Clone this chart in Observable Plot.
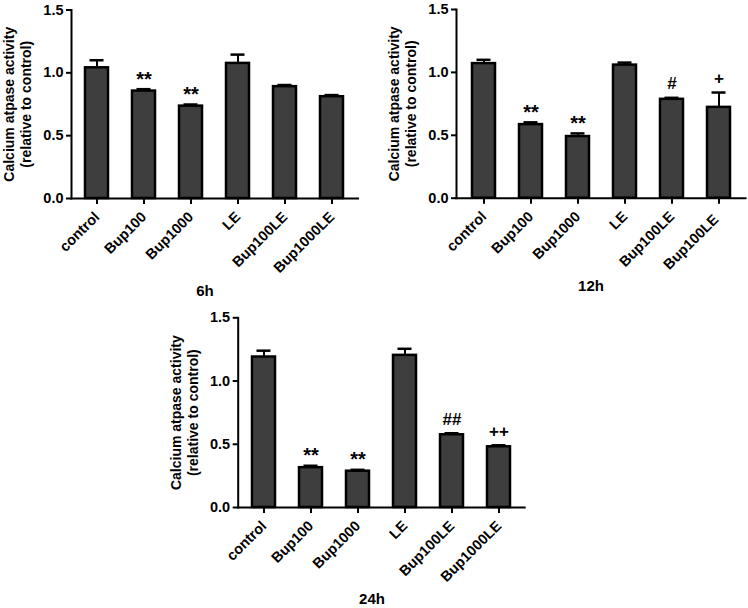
<!DOCTYPE html>
<html>
<head>
<meta charset="utf-8">
<script src="https://cdn.jsdelivr.net/npm/d3@7"></script>
<script src="https://cdn.jsdelivr.net/npm/@observablehq/plot@0.6"></script>
<style>
  body { margin: 0; background: #fff; }
  #wrap { position: relative; width: 748px; height: 608px; font-family: "Liberation Sans", Arial, sans-serif; }
  .panel { position: absolute; }
  .ttl { position: absolute; font-weight: bold; font-size: 15px; transform: translate(-50%, -50%); white-space: nowrap; }
</style>
</head>
<body>
<div id="wrap"></div>
<script>
// ---- data ----
const groups6 = ["control", "Bup100", "Bup1000", "LE", "Bup100LE", "Bup1000LE"];
const means6 = [1.04, 0.855, 0.735, 1.075, 0.89, 0.81];
const errs6 = [1.10, 0.87, 0.748, 1.145, 0.903, 0.823];
const marks6 = ["", "**", "**", "", "", ""];

const groups12 = ["control", "Bup100", "Bup1000", "LE", "Bup100LE", "Bup100LE "];
const means12 = [1.07, 0.585, 0.49, 1.058, 0.786, 0.722];
const errs12 = [1.10, 0.603, 0.515, 1.078, 0.798, 0.84];
const marks12 = ["", "**", "**", "", "#", "+"];

const groups24 = ["control", "Bup100", "Bup1000", "LE", "Bup100LE", "Bup1000LE"];
const means24 = [1.19, 0.315, 0.287, 1.203, 0.575, 0.48];
const errs24 = [1.24, 0.33, 0.298, 1.255, 0.587, 0.492];
const marks24 = ["", "**", "**", "", "##", "++"];

const yTicks = [0, 0.5, 1.0, 1.5];
const yTitle1 = "Calcium atpase activity";
const yTitle2 = "(relative to control)";
const titles = ["6h", "12h", "24h"];

const FONT = "Liberation Sans, Arial, sans-serif";

function panel(groups, means, errs, marks, geo) {
  const data = groups.map((g, i) => ({g, m: means[i], e: errs[i], s: marks[i]}));
  const stars = data.filter(d => d.s === "**");
  const others = data.filter(d => d.s && d.s !== "**");
  return Plot.plot({
    width: geo.width, height: geo.height,
    marginLeft: geo.ml, marginRight: geo.mr, marginTop: geo.mt, marginBottom: geo.mb,
    style: {fontFamily: FONT, fontWeight: "bold", fontSize: "14px", color: "black", background: "white", overflow: "visible"},
    x: {domain: groups, paddingInner: 0.516, paddingOuter: 0.274, label: null, axis: null},
    y: {domain: [0, 1.5], ticks: yTicks, label: null, axis: null},
    marks: [
      Plot.barY(data, {x: "g", y: "m", fill: "#3e3e3e", stroke: "black", strokeWidth: 2.5}),
      Plot.ruleX(data, {x: "g", y1: "m", y2: "e", stroke: "black", strokeWidth: 2}),
      Plot.tickY(data, {x: "g", y: "e", stroke: "black", strokeWidth: 2.5, insetLeft: 4.5, insetRight: 4.5}),
      Plot.text(stars, {x: "g", y: "e", text: "s", dy: -10, lineAnchor: "middle", fontSize: 20, fontWeight: "bold", fill: "black"}),
      Plot.text(others, {x: "g", y: "e", text: "s", dy: -14, lineAnchor: "middle", fontSize: 17, fontWeight: "bold", fill: "black"}),
      Plot.axisY({ticks: yTicks, tickFormat: d3.format(".1f"), tickSize: 5, tickPadding: 3, strokeWidth: 2, fontWeight: "bold", fontSize: 14.5, label: null}),
      Plot.axisX({tickRotate: -45, tickSize: 6, tickPadding: 10, strokeWidth: 2, fontWeight: "bold", fontSize: 14.5, label: null}),
      Plot.frame({anchor: "left", stroke: "black", strokeWidth: 2}),
      Plot.frame({anchor: "bottom", stroke: "black", strokeWidth: 2}),
      Plot.text([yTitle1], {frameAnchor: "left", dx: -62, rotate: -90, textAnchor: "middle", lineAnchor: "middle", text: d => d, fontSize: 14, fontWeight: "bold", fill: "black"}),
      Plot.text([yTitle2], {frameAnchor: "left", dx: -45, rotate: -90, textAnchor: "middle", lineAnchor: "middle", text: d => d, fontSize: 14, fontWeight: "bold", fill: "black"})
    ]
  });
}

const wrap = document.getElementById("wrap");
function place(el, left, top) {
  const d = document.createElement("div");
  d.className = "panel";
  d.style.left = left + "px"; d.style.top = top + "px";
  d.appendChild(el);
  wrap.appendChild(d);
}
function title(t, x, y) {
  const d = document.createElement("div");
  d.className = "ttl";
  d.textContent = t;
  d.style.left = x + "px"; d.style.top = y + "px";
  wrap.appendChild(d);
}

place(panel(groups6, means6, errs6, marks6, {width: 374, height: 300, ml: 71, mr: 16.5, mt: 9.5, mb: 102}), 0, 0);
place(panel(groups12, means12, errs12, marks12, {width: 374, height: 300, ml: 82, mr: 3, mt: 9, mb: 102.3}), 374, 0);
place(panel(groups24, means24, errs24, marks24, {width: 388, height: 308, ml: 77.7, mr: 23.8, mt: 17.3, mb: 101}), 160, 300);

title(titles[0], 205, 290);
title(titles[1], 591, 285);
title(titles[2], 372, 598);
</script>
</body>
</html>
